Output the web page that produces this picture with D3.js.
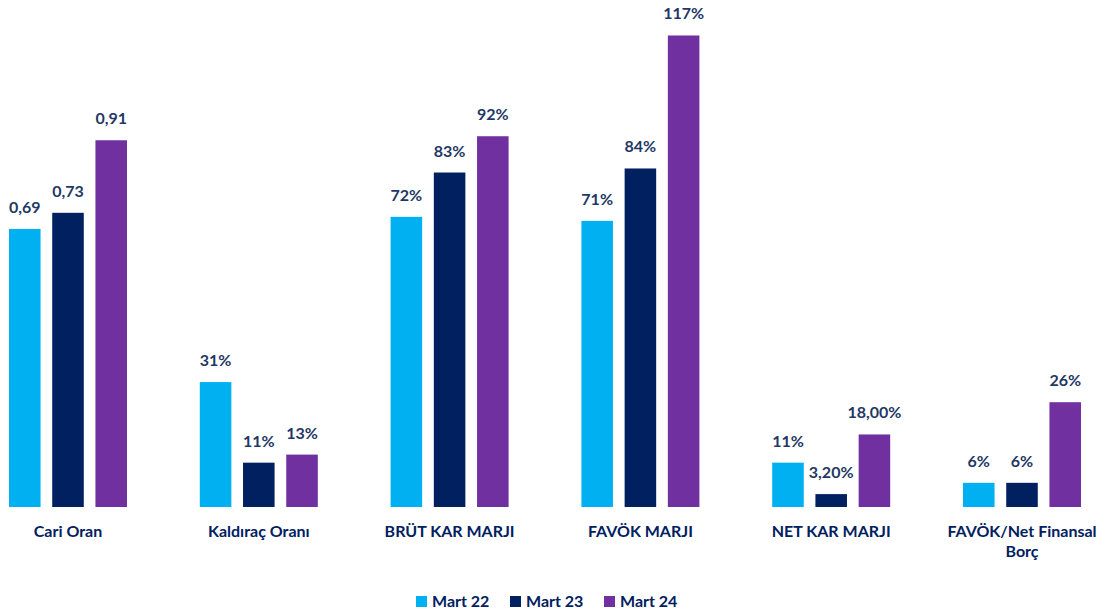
<!DOCTYPE html>
<meta charset="utf-8">
<style>
  body { margin: 0; background: #fff; }
  text { font-family: Lato, "Open Sans", sans-serif; font-weight: bold; }
</style>
<body>
<script src="https://d3js.org/d3.v7.min.js"></script>
<script>

  let width = 1104,
    height = 613;

  let categories = ["Cari Oran", "Kaldıraç Oranı", "BRÜT KAR MARJI", "FAVÖK MARJI", "NET KAR MARJI", "FAVÖK/Net Finansal Borç"];
  let seriesNames = ["Mart 22", "Mart 23", "Mart 24"];
  let colors = ["#00B0F0", "#002060", "#7030A0"];

  // values per series, in category order
  let mart22 = [0.69, 0.31, 0.72, 0.71, 0.11, 0.06];
  let mart23 = [0.73, 0.11, 0.83, 0.84, 0.032, 0.06];
  let mart24 = [0.91, 0.13, 0.92, 1.17, 0.18, 0.26];

  let labels22 = ["0,69", "31%", "72%", "71%", "11%", "6%"];
  let labels23 = ["0,73", "11%", "83%", "84%", "3,20%", "6%"];
  let labels24 = ["0,91", "13%", "92%", "117%", "18,00%", "26%"];

  let values = [mart22, mart23, mart24],
    labels = [labels22, labels23, labels24];

  let rows = [];
  categories.forEach(function(c, i) {
    seriesNames.forEach(function(s, j) {
      rows.push({cat: c, series: s, j: j, value: values[j][i], label: labels[j][i]});
    });
  });

  let svg = d3.select("body").append("svg")
    .attr("width", width)
    .attr("height", height);

  let x0 = d3.scaleBand()
    .domain(categories)
    .range([-27.4, 1117.4])
    .paddingInner(0)
    .paddingOuter(0);

  let x1 = d3.scaleBand()
    .domain(seriesNames)
    .range([x0.bandwidth() / 2 - 59, x0.bandwidth() / 2 + 59])
    .paddingInner(0.27)
    .paddingOuter(0);

  let y = d3.scaleLinear()
    .domain([0, 1])
    .range([507, 104]);

  let bars = svg.append("g");

  bars.selectAll("rect")
    .data(rows)
    .enter().append("rect")
    .attr("x", d => x0(d.cat) + x1(d.series))
    .attr("y", d => y(d.value))
    .attr("width", x1.bandwidth())
    .attr("height", d => y(0) - y(d.value))
    .style("fill", d => colors[d.j]);

  bars.selectAll("text")
    .data(rows)
    .enter().append("text")
    .attr("x", d => x0(d.cat) + x1(d.series) + x1.bandwidth() / 2)
    .attr("y", d => y(d.value) - 16)
    .attr("text-anchor", "middle")
    .style("font-size", "16px")
    .style("fill", "#1F3864")
    .text(d => d.label);

  // category labels (wrapped by hand for the long one)
  let catLines = {"FAVÖK/Net Finansal Borç": ["FAVÖK/Net Finansal", "Borç"]};

  let catText = svg.append("g").selectAll("text")
    .data(categories)
    .enter().append("text")
    .attr("x", d => x0(d) + x0.bandwidth() / 2)
    .attr("y", 537)
    .attr("text-anchor", "middle")
    .style("font-size", "16px")
    .style("fill", "#002060");

  catText.each(function(d) {
    let lines = catLines[d] || [d];
    let t = d3.select(this);
    lines.forEach(function(l, i) {
      t.append("tspan")
        .attr("x", x0(d) + x0.bandwidth() / 2)
        .attr("dy", i === 0 ? 0 : 20)
        .text(l);
    });
  });

  // legend
  let legendX = [416, 510, 604];
  let legend = svg.append("g").selectAll("g")
    .data(seriesNames)
    .enter().append("g")
    .attr("transform", (d, i) => "translate(" + legendX[i] + ",596)");

  legend.append("rect")
    .attr("width", 11)
    .attr("height", 11)
    .style("fill", (d, i) => colors[i]);

  legend.append("text")
    .attr("x", 16)
    .attr("y", 11)
    .style("font-size", "16px")
    .style("fill", "#002060")
    .text(d => d);

</script>
